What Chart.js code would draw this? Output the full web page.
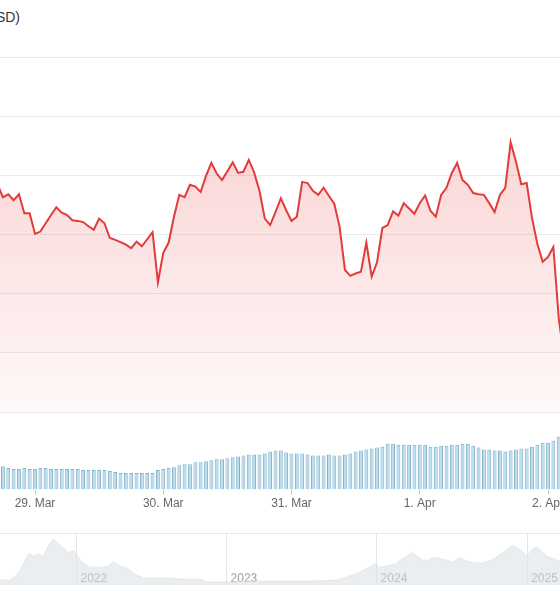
<!DOCTYPE html>
<html>
<head>
<meta charset="utf-8">
<title>Price (USD)</title>
<script src="https://cdn.jsdelivr.net/npm/chart.js@4.4.1/dist/chart.umd.min.js"></script>
<style>
  html, body { margin: 0; padding: 0; background: #fff; }
  #wrap { position: relative; width: 560px; height: 600px; overflow: hidden; font-family: "Liberation Sans", Arial, sans-serif; }
  #title { position: absolute; right: 540px; top: 9px; font-size: 14px; line-height: 16px; color: #333; white-space: nowrap; }
  canvas { position: absolute; left: 0; }
  #priceChart { top: 50px; }
  #volumeChart { top: 431px; }
  #navChart { top: 533px; border-top: 1px solid #e6e6e6; }
</style>
</head>
<body>
<div id="wrap">
  <div id="title">Bitcoin Price (USD)</div>
  <canvas id="priceChart" width="560" height="370"></canvas>
  <canvas id="volumeChart" width="560" height="82"></canvas>
  <canvas id="navChart" width="560" height="52"></canvas>
</div>
<script>
// hourly data, first point at 28 Mar 17:00 UTC
const firstHour = '2025-03-28T17:00:00Z';
const prices = [
  83840, 83630, 83680, 83580, 83680, 83360, 83360,
  83010, 83050, 83190, 83330, 83460, 83370, 83330, 83240, 83230, 83210, 83140, 83080,
  83270, 83190, 82940, 82910, 82870, 82830, 82770, 82880, 82800, 82920, 83040, 82190,
  82690, 82860, 83300, 83670, 83630, 83840, 83810, 83720, 83990, 84210, 84030, 83920,
  84070, 84220, 84040, 84060, 84260, 84050, 83740, 83270, 83160, 83380, 83610, 83410,
  83230, 83300, 83890, 83870, 83740, 83670, 83790, 83650, 83520, 83130, 82400, 82300,
  82340, 82370, 82860, 82290, 82530, 83110, 83160, 83390, 83320, 83530, 83440, 83350,
  83530, 83660, 83400, 83300, 83670, 83790, 84040, 84210, 83920, 83840, 83700, 83680,
  83670, 83530, 83380, 83670, 83790, 84560, 84230, 83850, 83870, 83280, 82840, 82540,
  82620, 82790, 81590, 80910
];
const volumes = [
  23, 24, 22, 21, 21, 22, 21,
  21, 22, 22, 21, 21, 21, 21, 21, 21, 20, 20, 20,
  20, 20, 19, 18, 17, 17, 17, 17, 17, 17, 17, 20,
  21, 22, 23, 25, 26, 26, 28, 28, 29, 30, 31, 31,
  32, 33, 34, 35, 36, 36, 36, 37, 39, 40, 40, 38,
  37, 37, 37, 36, 35, 35, 35, 36, 35, 35, 36, 37,
  39, 40, 41, 42, 43, 44, 47, 47, 46, 46, 46, 46,
  46, 46, 44, 44, 45, 45, 46, 46, 47, 47, 45, 43,
  41, 41, 40, 40, 39, 40, 41, 42, 42, 44, 46, 48,
  48, 50, 54, 55
];
const dayTicks = ['2025-03-29', '2025-03-30', '2025-03-31', '2025-04-01', '2025-04-02'];
const dayLabels = ['29. Mar', '30. Mar', '31. Mar', '1. Apr', '2. Apr'];

// navigator (long range overview)
const navDates = [
  '2021-06-15', '2021-06-29', '2021-07-23', '2021-08-04', '2021-08-17', '2021-08-29',
  '2021-09-08', '2021-09-18', '2021-09-30', '2021-10-12', '2021-10-24', '2021-11-06',
  '2021-11-18', '2021-11-30', '2021-12-12', '2021-12-25', '2022-01-06', '2022-01-18',
  '2022-02-04', '2022-02-28', '2022-03-17', '2022-04-01', '2022-04-13', '2022-05-05',
  '2022-05-19', '2022-06-13', '2022-07-07', '2022-08-10', '2022-09-10', '2022-10-29',
  '2022-11-15', '2023-01-02', '2023-02-20', '2023-05-11', '2023-07-30', '2023-09-26',
  '2023-10-21', '2023-11-21', '2023-12-15', '2023-12-27', '2024-01-08', '2024-02-02',
  '2024-02-19', '2024-03-04', '2024-03-16', '2024-03-28', '2024-04-10', '2024-04-22',
  '2024-05-04', '2024-05-16', '2024-06-03', '2024-06-20', '2024-07-04', '2024-07-21',
  '2024-08-03', '2024-08-22', '2024-09-09', '2024-09-26', '2024-10-10', '2024-10-27',
  '2024-11-14', '2024-11-26', '2024-12-16', '2025-01-01', '2025-01-13', '2025-01-25',
  '2025-02-06', '2025-02-19', '2025-03-05', '2025-03-22', '2025-04-02'
];
const navValues = [
  5, 5, 5, 8, 15, 25,
  32, 29, 32, 28, 40, 47,
  42, 38, 33, 35, 28, 22,
  18, 18, 19, 24, 20, 17,
  12, 7, 7, 7, 6, 6,
  3, 3, 4, 4, 4, 5,
  8, 13, 18, 22, 18, 20,
  22, 27, 30, 33, 29, 25,
  25, 28, 27, 25, 23, 28,
  25, 23, 22, 24, 26, 31,
  36, 40, 36, 29, 36, 39,
  34, 29, 27, 24, 23
];
const yearTicks = ['2022-01-01', '2023-01-01', '2024-01-01', '2025-01-01'];
const yearLabels = ['2022', '2023', '2024', '2025'];

const HOUR = 3600000;
const t0 = Date.parse(firstHour);
const hourX = i => t0 + i * HOUR;
const dayX = dayTicks.map(d => Date.parse(d + 'T00:00:00Z'));
const viewMin = dayX[0] - 6.55 * HOUR;
const viewMax = dayX[0] + 98.24 * HOUR;
const yearX = yearTicks.map(d => Date.parse(d + 'T00:00:00Z'));

Chart.defaults.font.family = '"Liberation Sans", Arial, Helvetica, sans-serif';
Chart.defaults.font.size = 12;

const noPlugins = { legend: { display: false }, tooltip: { enabled: false } };

// price line
new Chart(document.getElementById('priceChart'), {
  type: 'line',
  data: {
    datasets: [{
      data: prices.map((p, i) => ({ x: hourX(i), y: p })),
      borderColor: '#e23b3b',
      borderWidth: 2,
      pointRadius: 0,
      tension: 0,
      fill: 'start',
      backgroundColor: (ctx) => {
        const area = ctx.chart.chartArea;
        if (!area) return 'rgba(235,60,60,0.15)';
        const g = ctx.chart.ctx.createLinearGradient(0, area.top, 0, area.bottom);
        g.addColorStop(0, 'rgba(235,60,60,0.27)');
        g.addColorStop(1, 'rgba(235,60,60,0.03)');
        return g;
      }
    }]
  },
  options: {
    responsive: false,
    animation: false,
    layout: { padding: { top: 7, bottom: 8, left: 0, right: 0 } },
    plugins: noPlugins,
    scales: {
      x: { type: 'linear', min: viewMin, max: viewMax, display: false },
      y: {
        min: 80000, max: 86000,
        ticks: { display: false, stepSize: 1000 },
        grid: { color: '#ebebeb', drawTicks: false },
        border: { display: false }
      }
    }
  }
});

// volume bars + date axis
new Chart(document.getElementById('volumeChart'), {
  type: 'bar',
  data: {
    datasets: [{
      data: volumes.map((v, i) => ({ x: hourX(i), y: v })),
      backgroundColor: '#bddbe9',
      borderColor: '#80b3cd',
      borderWidth: 1,
      barPercentage: 0.72,
      categoryPercentage: 1
    }]
  },
  options: {
    responsive: false,
    animation: false,
    layout: { padding: 0 },
    plugins: noPlugins,
    scales: {
      x: {
        type: 'linear', min: viewMin, max: viewMax, offset: false,
        afterBuildTicks: (s) => { s.ticks = dayX.map(v => ({ value: v })); },
        afterFit: (s) => { s.paddingLeft = 0; s.paddingRight = 0; },
        ticks: {
          callback: (v) => dayLabels[dayX.indexOf(v)],
          color: '#666', padding: 2, maxRotation: 0, autoSkip: false
        },
        grid: { drawOnChartArea: false, tickLength: 5, color: '#cccccc', offset: false },
        border: { display: false }
      },
      y: { display: false, min: 0, max: 60 }
    }
  }
});

// navigator overview
new Chart(document.getElementById('navChart'), {
  type: 'line',
  data: {
    datasets: [{
      data: navDates.map((d, i) => ({ x: Date.parse(d + 'T00:00:00Z'), y: navValues[i] })),
      fill: 'start',
      backgroundColor: 'rgba(218,224,229,0.55)',
      borderColor: 'rgba(210,218,224,0.6)',
      borderWidth: 1,
      pointRadius: 0,
      tension: 0
    }]
  },
  options: {
    responsive: false,
    animation: false,
    layout: { padding: 0 },
    plugins: noPlugins,
    scales: {
      x: {
        type: 'linear',
        z: 1,
        position: { y: 16.2 },
        min: Date.parse('2021-06-29T00:00:00Z'),
        max: Date.parse('2025-03-22T00:00:00Z'),
        afterBuildTicks: (s) => { s.ticks = yearX.map(v => ({ value: v })); },
        afterFit: (s) => { s.paddingLeft = 0; s.paddingRight = 0; },
        ticks: {
          callback: (v) => yearLabels[yearX.indexOf(v)],
          align: 'start', labelOffset: 4, padding: 3,
          color: '#999', maxRotation: 0, autoSkip: false
        },
        grid: { color: '#e6e6e6', drawTicks: false },
        border: { display: false }
      },
      y: { display: false, min: 0, max: 52 }
    }
  }
});
</script>
</body>
</html>
